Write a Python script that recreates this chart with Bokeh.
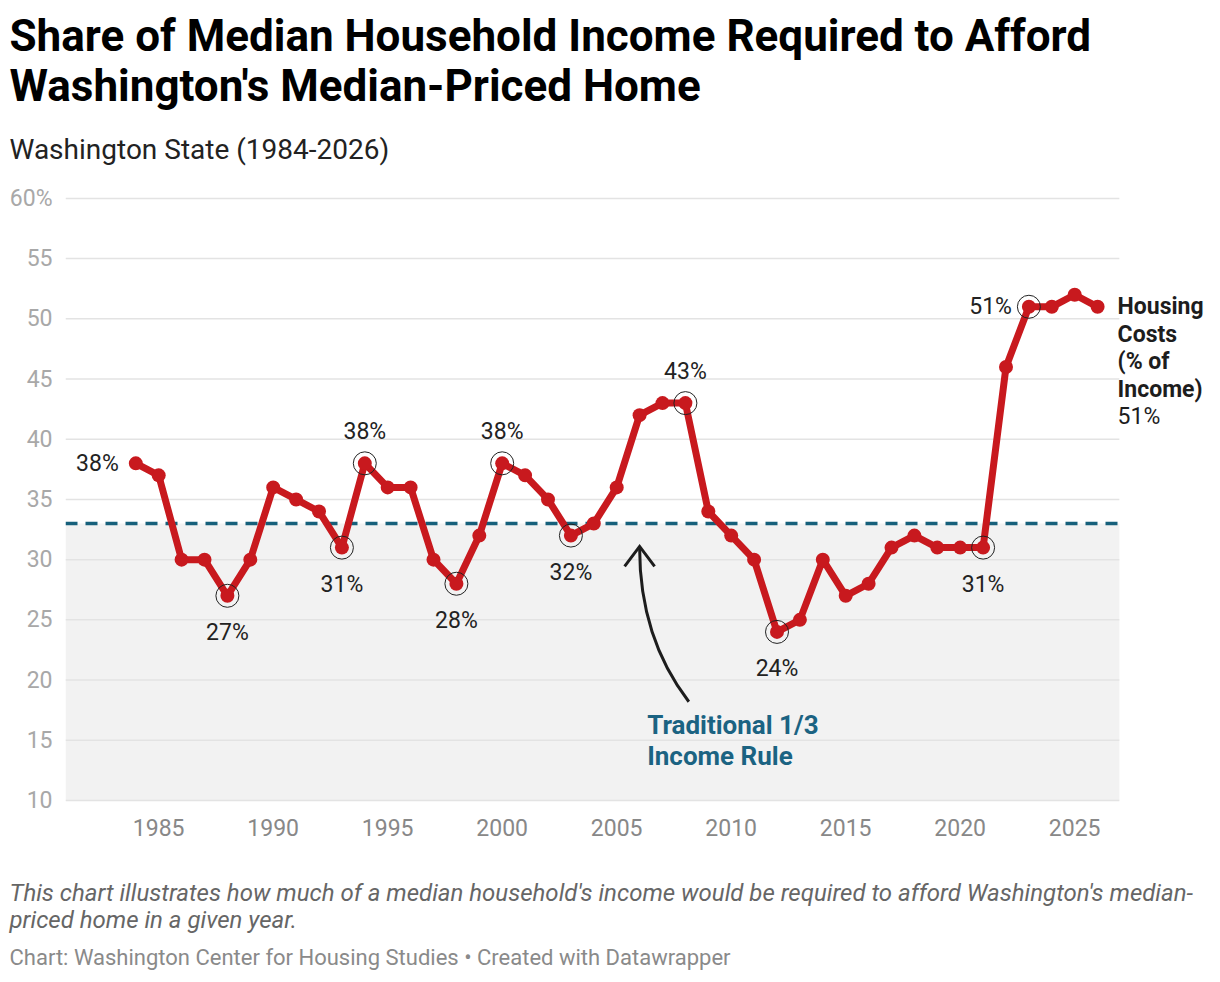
from bokeh.plotting import figure
from bokeh.models import (Range1d, FixedTicker, BoxAnnotation, Label, Title,
                          ColumnDataSource)
from bokeh.embed import file_html
from bokeh.resources import INLINE

# ---------------- data ----------------
years = list(range(1984, 2027))
share = [38, 37, 30, 30, 27, 30, 36, 35, 34, 31,
         38, 36, 36, 30, 28, 32, 38, 37, 35, 32,
         33, 36, 42, 43, 43, 34, 32, 30, 24, 25,
         30, 27, 28, 31, 32, 31, 31, 31, 46, 51,
         51, 52, 51]
highlight_years = [1988, 1993, 1994, 1998, 2000, 2003, 2008, 2012, 2021, 2023]
label_years = [1984, 1988, 1993, 1994, 1998, 2000, 2003, 2008, 2012, 2021, 2023]
label_pos = ["left", "below", "below", "above", "below", "above", "below",
             "above", "below", "below", "left"]
rule_value = 33
x_ticks = [1985, 1990, 1995, 2000, 2005, 2010, 2015, 2020, 2025]
y_ticks = [10, 15, 20, 25, 30, 35, 40, 45, 50, 55, 60]

RED = "#c8191e"
TEAL = "#17607b"
FONT = "Roboto"

PX_PER_YEAR = 22.9
PX_PER_UNIT = 12.046
X0, X1 = 1980.93, 2026.95          # extent of the chart area (grid / band)
val = dict(zip(years, share))

LEFT = 65
p = figure(width=1204, height=972, output_backend="svg", toolbar_location=None,
           x_range=Range1d(X0, X0 + (1204 - LEFT) / PX_PER_YEAR),
           y_range=Range1d(9.834, 60.324),
           min_border_left=LEFT, min_border_right=0, min_border_top=0,
           min_border_bottom=170, title=None)
p.outline_line_color = None
p.background_fill_color = "white"
p.border_fill_color = "white"

# axes
p.xaxis.ticker = FixedTicker(ticks=x_ticks)
p.yaxis.ticker = FixedTicker(ticks=y_ticks)
p.yaxis.major_label_overrides = {60: "60%"}
for ax in (p.xaxis, p.yaxis):
    ax.axis_line_color = None
    ax.major_tick_line_color = None
    ax.minor_tick_line_color = None
    ax.major_label_text_font = FONT
    ax.major_label_text_font_size = "23px"
p.xaxis.major_label_text_color = "#888888"
p.yaxis.major_label_text_color = "#a8a8a8"
p.xaxis.major_label_standoff = 10
p.yaxis.major_label_standoff = 7
p.xgrid.grid_line_color = None
p.ygrid.grid_line_color = None

# shaded band below the rule, grid lines and dashed rule line
p.add_layout(BoxAnnotation(left=X0, right=X1, bottom=10, top=rule_value,
                           fill_color="#f2f2f2", fill_alpha=1, line_color=None,
                           level="image"))
p.segment(x0=[X0] * len(y_ticks), x1=[X1] * len(y_ticks), y0=y_ticks, y1=y_ticks,
          line_color="#e3e3e3", line_width=1.5)
p.segment(x0=[X0], x1=[X1], y0=[rule_value], y1=[rule_value], line_color=TEAL,
          line_width=3.5, line_dash="12 8")

# main line
src = ColumnDataSource(dict(x=years, y=share))
p.line("x", "y", source=src, line_color=RED, line_width=7,
       line_join="round", line_cap="round")
p.scatter("x", "y", source=src, size=14, fill_color=RED, line_color=None)

hsrc = ColumnDataSource(dict(x=highlight_years, y=[val[y] for y in highlight_years]))
p.scatter("x", "y", source=hsrc, size=23, fill_color=None, line_color="#222222",
          line_width=1)

# value labels
for yr, pos in zip(label_years, label_pos):
    v = val[yr]
    kw = dict(x=yr, y=v, text=f"{v}%", text_font=FONT, text_font_size="23px",
              text_color="#222222", text_baseline="middle")
    if pos == "left":
        kw.update(text_align="right", x_offset=-17)
    elif pos == "below":
        kw.update(text_align="center", y_offset=-37)
    else:
        kw.update(text_align="center", y_offset=32)
    p.add_layout(Label(**kw))

# end label
end_lines = ["Housing", "Costs", "(% of", "Income)"]
for i, t in enumerate(end_lines):
    p.add_layout(Label(x=years[-1], y=share[-1], text=t, x_offset=20, y_offset=-27.5 * i,
                       text_font=FONT, text_font_size="23px", text_font_style="bold",
                       text_color="#1d1d1d", text_align="left", text_baseline="middle"))
p.add_layout(Label(x=years[-1], y=share[-1], text=f"{share[-1]}%", x_offset=20,
                   y_offset=-27.5 * len(end_lines), text_font=FONT, text_font_size="23px",
                   text_color="#1d1d1d", text_align="left", text_baseline="middle"))

# rule annotation with curved arrow
tip_x, tip_y = 2006.0, 31.1
p.quadratic(x0=[2008.15], y0=[18.2], x1=[tip_x], y1=[tip_y - 0.1], cx=[tip_x], cy=[23.5],
            line_color="#1d1d1d", line_width=3)
hx, hy = 15 / PX_PER_YEAR, 20 / PX_PER_UNIT
p.multi_line(xs=[[tip_x - hx, tip_x, tip_x + hx]], ys=[[tip_y - hy, tip_y, tip_y - hy]],
             line_color="#1d1d1d", line_width=3, line_join="miter")
for i, t in enumerate(["Traditional 1/3", "Income Rule"]):
    p.add_layout(Label(x=2006.33, y=16.24, y_offset=-31 * i, text=t, text_font=FONT,
                       text_font_size="26px", text_font_style="bold", text_color="#1b6382",
                       text_align="left", text_baseline="middle"))


def title(text, size, style, color, standoff):
    return Title(text=text, text_font=FONT, text_font_size=size, text_font_style=style,
                 text_color=color, align="left", offset=10 - LEFT - 1, standoff=standoff)


# titles (above: first added is nearest the frame)
p.add_layout(title("Washington State (1984-2026)", "28px", "normal", "#222222", 58), "above")
p.add_layout(title("Washington's Median-Priced Home", "44px", "bold", "#000000", -21), "above")
p.add_layout(title("Share of Median Household Income Required to Afford", "44px", "bold",
                   "#000000", 14), "above")

# footer (below: first added is nearest the frame)
p.add_layout(title(" ", "10px", "normal", "#ffffff", 27), "below")
p.add_layout(title("This chart illustrates how much of a median household's income would be required to afford Washington's median-",
                   "24px", "italic", "#666666", -3), "below")
p.add_layout(title("priced home in a given year.", "24px", "italic", "#666666", -3), "below")
p.add_layout(title(" ", "10px", "normal", "#ffffff", -3), "below")
p.add_layout(title("Chart: Washington Center for Housing Studies \u2022 Created with Datawrapper",
                   "22px", "normal", "#8a8a8a", 0), "below")

open("out.html", "w").write(file_html(p, INLINE))
